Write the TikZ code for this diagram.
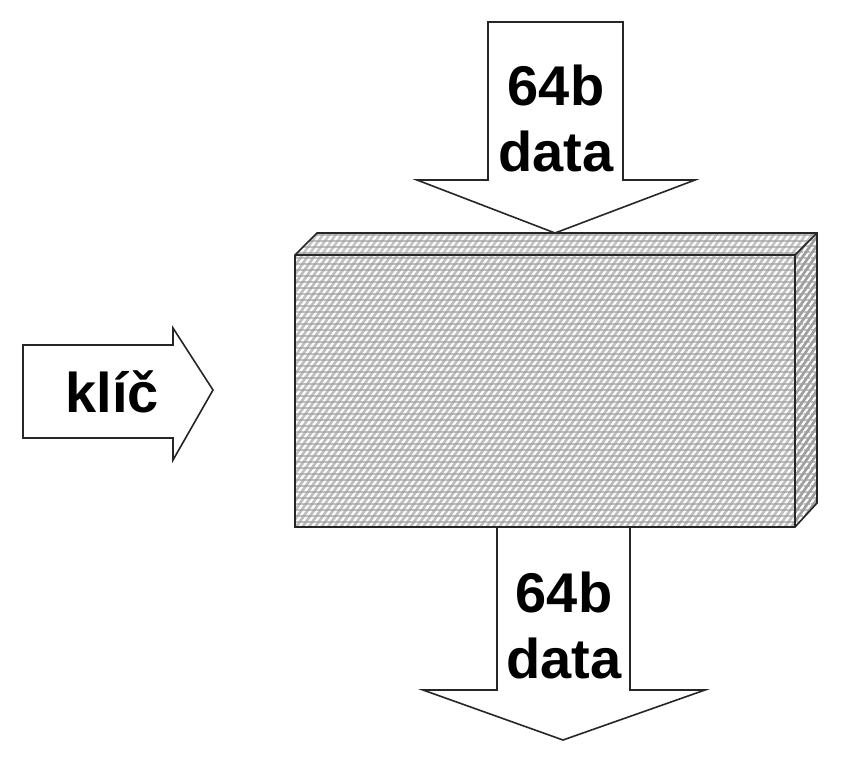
\documentclass[tikz,border=0pt]{standalone}
\usepackage{fontspec}
\setmainfont{Liberation Sans}
\usetikzlibrary{patterns.meta}

\begin{document}
\begin{tikzpicture}[
    x=1pt, y=-1pt,
    line join=miter,
    face/.style={draw=black!85, line width=1.6pt},
    weave/.style={pattern={Lines[angle=55, distance=5.2pt, line width=2.2pt]}, pattern color=white},
    weft/.style={pattern={Lines[angle=0, distance=6.4pt, line width=1.3pt]}, pattern color=gray!75},
    arrowbox/.style={draw=black!85, line width=1.6pt, fill=white},
    label/.style={font=\fontsize{56}{66}\selectfont\bfseries, align=center, inner sep=0pt}
]
   \useasboundingbox (0,0) rectangle (842,764);

   % Block faces
   \coordinate (fl) at (295,255); \coordinate (fr) at (795,255);
   \coordinate (bl) at (295,527); \coordinate (br) at (795,527);
   \coordinate (tl) at (317,233); \coordinate (tr) at (817,233);
   \coordinate (rb) at (817,503);
   \foreach \f/\s in {{(fl)--(tl)--(tr)--(fr)}/gray!45, {(fr)--(tr)--(rb)--(br)}/gray!75, {(fl)--(fr)--(br)--(bl)}/gray!50} {
     \fill[\s] \f -- cycle;
     \fill[weave] \f -- cycle;
     \fill[weft] \f -- cycle;
   }
   \draw[face] (fl) -- (tl) -- (tr) -- (rb) -- (br) -- (bl) -- cycle;
   \draw[face] (fl) -- (fr) -- (br) (fr) -- (tr);

   % Input data
   \draw[arrowbox] (488,22) -- (623,22) -- (623,180) -- (695,180) -- (555,233) -- (417,180) -- (488,180) -- cycle;
   \node[label] (datain) at (556,118) {64b\\data};

   % Output data
   \draw[arrowbox] (497,527) -- (630,527) -- (630,690) -- (705,690) -- (563,740) -- (423,690) -- (497,690) -- cycle;
   \node[label] (dataout) at (564,625) {64b\\data};

   % Key
   \draw[arrowbox] (23,345) -- (173,345) -- (173,328) -- (213,390) -- (173,460) -- (173,438) -- (23,438) -- cycle;
   \node[label] (key) at (112,392) {klíč};
\end{tikzpicture}
\end{document}
